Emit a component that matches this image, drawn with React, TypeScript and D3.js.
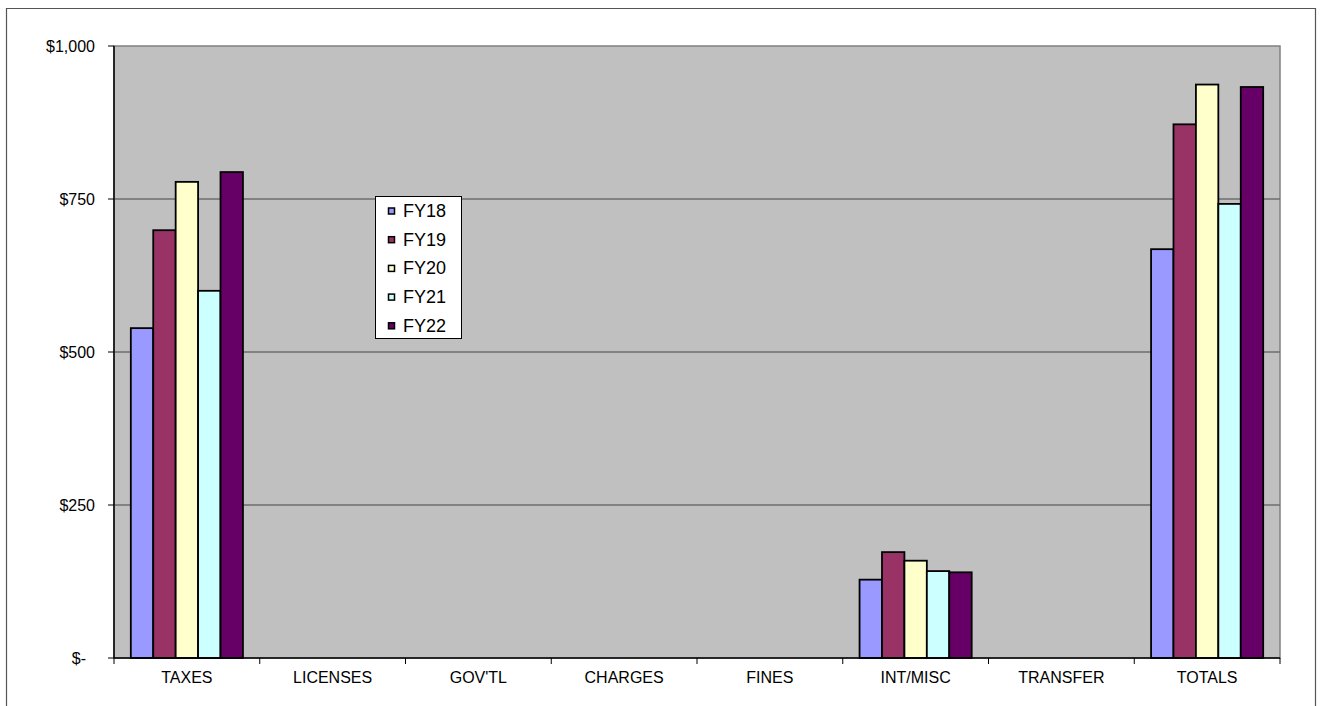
import React from "react";
import * as d3 from "d3";

const categories = ["TAXES", "LICENSES", "GOV'TL", "CHARGES", "FINES", "INT/MISC", "TRANSFER", "TOTALS"];
const seriesNames = ["FY18", "FY19", "FY20", "FY21", "FY22"];
const seriesColors = ["#9999FF", "#993366", "#FFFFCC", "#CCFFFF", "#660066"];

// values per series, in category order
const fy18 = [539, 0, 0, 0, 0, 128, 0, 668];
const fy19 = [699, 0, 0, 0, 0, 173, 0, 872];
const fy20 = [778, 0, 0, 0, 0, 159, 0, 937];
const fy21 = [600, 0, 0, 0, 0, 142, 0, 742];
const fy22 = [794, 0, 0, 0, 0, 140, 0, 933];
const seriesValues = [fy18, fy19, fy20, fy21, fy22];

const yTicks = [0, 250, 500, 750, 1000];
const yTickLabels = ["$-", "$250", "$500", "$750", "$1,000"];

const W = 1320;
const H = 706;
const plot = { left: 114, right: 1280, top: 46, bottom: 658 };
const FONT = "'Liberation Sans', Arial, sans-serif";

export default function App() {
  const x = d3.scaleBand<string>().domain(categories).range([plot.left, plot.right]).padding(0);
  const bw = x.bandwidth();
  const barW = bw / 6.5; // gap width of 150%
  const inner = d3
    .scaleBand<string>()
    .domain(seriesNames)
    .range([barW * 0.75, bw - barW * 0.75])
    .padding(0);
  const y = d3.scaleLinear().domain([0, 1000]).range([plot.bottom, plot.top]);

  const boundaries = d3.range(categories.length + 1).map((i) => plot.left + i * bw);

  const legend = { x: 375, y: 196, w: 86, h: 142 };

  return (
    <svg
      width={W}
      height={H}
      style={{ position: "absolute", left: 0, top: 0, display: "block" }}
      fontFamily={FONT}
    >
      <rect x={0} y={0} width={W} height={H} fill="#fff" />
      {/* chart frame */}
      <path d={`M6.5,${H + 2} V8.5 H1315.5 V${H + 2}`} fill="none" stroke="#555" strokeWidth={1.2} />

      {/* plot area */}
      <rect
        x={plot.left}
        y={plot.top}
        width={plot.right - plot.left}
        height={plot.bottom - plot.top}
        fill="#C0C0C0"
        stroke="#808080"
        strokeWidth={1.5}
      />

      {/* gridlines */}
      {yTicks.slice(1, -1).map((t) => (
        <line key={t} x1={plot.left} x2={plot.right} y1={y(t)} y2={y(t)} stroke="#6e6e6e" strokeWidth={1.5} />
      ))}

      {/* bars */}
      {categories.map((c, ci) =>
        seriesNames.map((s, si) => {
          const v = seriesValues[si][ci];
          if (!v) return null;
          const bx = (x(c) as number) + (inner(s) as number);
          return (
            <rect
              key={c + s}
              x={bx}
              y={y(v)}
              width={inner.bandwidth()}
              height={y(0) - y(v)}
              fill={seriesColors[si]}
              stroke="#000"
              strokeWidth={1.8}
            />
          );
        })
      )}

      {/* y axis */}
      <line x1={plot.left} x2={plot.left} y1={plot.top} y2={plot.bottom} stroke="#000" strokeWidth={1.5} />
      {yTicks.map((t, i) => (
        <g key={t}>
          <line x1={plot.left - 6} x2={plot.left} y1={y(t)} y2={y(t)} stroke="#000" strokeWidth={1} />
          <text
            x={t === 0 ? 86 : 95}
            y={y(t)}
            dy="0.36em"
            textAnchor="end"
            fontSize={16}
            fill="#000"
          >
            {yTickLabels[i]}
          </text>
        </g>
      ))}

      {/* x axis */}
      <line x1={plot.left} x2={plot.right} y1={plot.bottom} y2={plot.bottom} stroke="#000" strokeWidth={1.5} />
      {boundaries.map((bx, i) => (
        <line key={i} x1={bx} x2={bx} y1={plot.bottom} y2={plot.bottom + 6} stroke="#000" strokeWidth={1} />
      ))}
      {categories.map((c) => (
        <text
          key={c}
          x={(x(c) as number) + bw / 2}
          y={683}
          textAnchor="middle"
          fontSize={16}
          fill="#000"
        >
          {c}
        </text>
      ))}

      {/* legend */}
      <rect
        x={legend.x + 0.5}
        y={legend.y + 0.5}
        width={legend.w}
        height={legend.h}
        fill="#fff"
        stroke="#000"
        strokeWidth={1}
      />
      {seriesNames.map((s, i) => (
        <g key={s} transform={`translate(${legend.x}, ${legend.y + 21 + i * 28.7})`}>
          <rect x={13.5} y={-9} width={6} height={6} fill={seriesColors[i]} stroke="#000" strokeWidth={1.5} />
          <text x={28} y={0} fontSize={18} fill="#000">
            {s}
          </text>
        </g>
      ))}
    </svg>
  );
}
